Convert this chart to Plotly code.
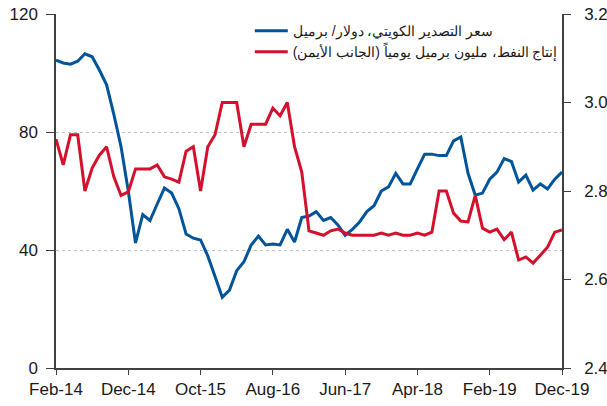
import pandas as pd
import plotly.graph_objects as go

# monthly, Feb-14 .. Dec-19
months = pd.date_range("2014-02-01", "2019-12-01", freq="MS").strftime("%b-%y").tolist()

# Kuwait export price, USD / barrel (left axis)
price = [104.4, 103.4, 103.0, 104.0, 106.5, 105.5, 101.0, 96.0, 86.0, 75.0,
         60.0, 42.4, 52.0, 50.0, 55.6, 61.0, 59.3, 54.0, 45.4, 44.0,
         43.4, 38.0, 31.0, 24.0, 26.4, 33.0, 36.0, 41.7, 44.7, 41.7,
         42.0, 41.7, 47.0, 42.7, 51.0, 51.5, 53.0, 50.0, 51.0, 48.5,
         45.0, 47.0, 49.5, 53.0, 55.0, 60.0, 61.4, 66.0, 62.4, 62.4,
         67.5, 72.5, 72.5, 72.0, 72.0, 77.0, 78.3, 66.0, 58.6, 59.3,
         64.0, 66.4, 71.0, 70.0, 63.0, 65.4, 60.3, 62.4, 60.7, 64.0,
         66.4]

# oil production, million barrels / day (right axis)
output = [2.917, 2.859, 2.927, 2.927, 2.800, 2.852, 2.881, 2.900, 2.832, 2.790,
          2.798, 2.850, 2.850, 2.850, 2.859, 2.832, 2.827, 2.820, 2.890, 2.900,
          2.800, 2.900, 2.927, 3.000, 3.000, 3.000, 2.900, 2.951, 2.951, 2.951,
          2.987, 2.970, 3.000, 2.900, 2.843, 2.710, 2.705, 2.700, 2.710, 2.714,
          2.705, 2.700, 2.700, 2.700, 2.700, 2.705, 2.700, 2.705, 2.700, 2.700,
          2.705, 2.700, 2.707, 2.800, 2.800, 2.750, 2.732, 2.730, 2.790, 2.716,
          2.707, 2.714, 2.690, 2.707, 2.644, 2.651, 2.637, 2.655, 2.673, 2.707,
          2.712]

names = ["سعر التصدير الكويتي، دولار/ برميل",
         "إنتاج النفط، مليون برميل يومياً (الجانب الأيمن)"]

tick_months = months[::10]

BLUE = "#00549a"
RED = "#d4102c"
AXIS = "#404040"

fig = go.Figure()
fig.add_trace(go.Scatter(x=months, y=price, mode="lines", name=names[0],
                         line=dict(color=BLUE, width=3)))
fig.add_trace(go.Scatter(x=months, y=output, mode="lines", name=names[1],
                         line=dict(color=RED, width=3), yaxis="y2"))

fig.update_layout(
    width=607, height=406,
    margin=dict(l=56, r=45, t=14, b=38),
    paper_bgcolor="white", plot_bgcolor="white",
    font=dict(family="Liberation Sans, Arial, sans-serif", size=17, color="#1a1a1a"),
    showlegend=True,
    legend=dict(x=0.383, y=0.997, xanchor="left", yanchor="top",
                bgcolor="rgba(0,0,0,0)", font=dict(size=14), itemwidth=33),
    xaxis=dict(type="category", range=[0, len(months) - 1], automargin=False,
               tickvals=tick_months, ticktext=tick_months,
               showline=True, linecolor=AXIS, linewidth=1.5,
               ticks="outside", ticklen=5, tickcolor=AXIS,
               showgrid=False, zeroline=False),
    yaxis=dict(range=[0, 120], dtick=40, automargin=False, ticklabeloverflow="allow",
               showline=True, linecolor=AXIS, linewidth=1.5,
               ticks="outside", ticklen=8, tickcolor=AXIS, ticklabelstandoff=5,
               showgrid=True, gridcolor="#c0c0c0", griddash="dot", gridwidth=1,
               zeroline=False),
    yaxis2=dict(range=[2.4, 3.2], dtick=0.2, tickformat=".1f", automargin=False,
                ticklabeloverflow="allow",
                overlaying="y", side="right",
                showline=True, linecolor=AXIS, linewidth=1.5,
                ticks="outside", ticklen=7, tickcolor=AXIS, ticklabelstandoff=10,
                showgrid=False, zeroline=False),
)

# drop the default 8px page margin so the figure fills the window exactly
fig.write_html("out.html", config={"displayModeBar": False},
               post_script="document.body.style.margin='0';")
